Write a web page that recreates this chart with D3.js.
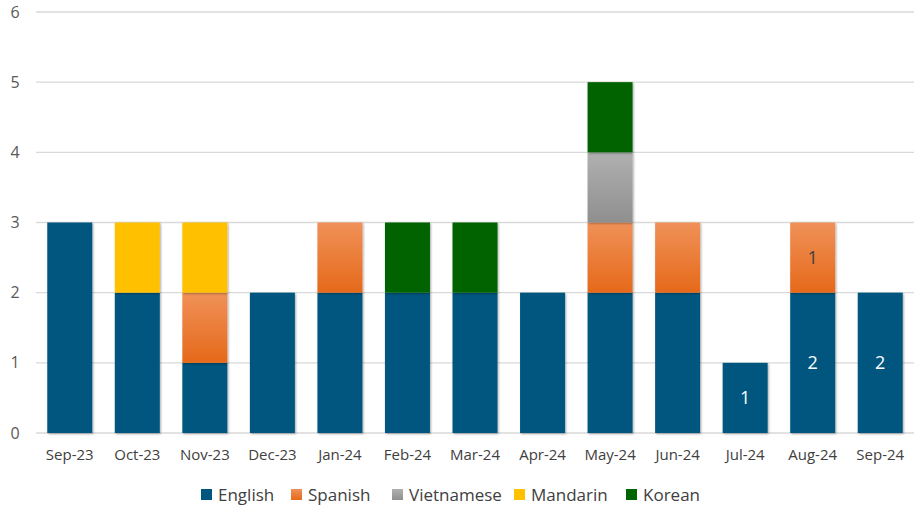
<!DOCTYPE html>
<html>
<head>
<meta charset="utf-8">
<script src="https://cdn.jsdelivr.net/npm/d3@7"></script>
<style>
  body { margin: 0; background: #fff; }
  text { font-family: "Open Sans", "Noto Sans", sans-serif; }
</style>
</head>
<body>
<div id="chart"></div>
<script>
// data
const months = ["Sep-23","Oct-23","Nov-23","Dec-23","Jan-24","Feb-24","Mar-24","Apr-24","May-24","Jun-24","Jul-24","Aug-24","Sep-24"];
const languages = ["English","Spanish","Vietnamese","Mandarin","Korean"];
const english    = [3,2,1,2,2,2,2,2,2,2,1,2,2];
const spanish    = [0,0,1,0,1,0,0,0,1,1,0,1,0];
const vietnamese = [0,0,0,0,0,0,0,0,1,0,0,0,0];
const mandarin   = [0,1,1,0,0,0,0,0,0,0,0,0,0];
const korean     = [0,0,0,0,0,1,1,0,1,0,0,0,0];
const yTicks = [0,1,2,3,4,5,6];
// which segments get a value label
const labelled = [["Jul-24","English"],["Aug-24","English"],["Aug-24","Spanish"],["Sep-24","English"]];

const seriesVals = { English: english, Spanish: spanish, Vietnamese: vietnamese, Mandarin: mandarin, Korean: korean };
const table = months.map((m, i) => {
    const row = { month: m };
    languages.forEach(l => row[l] = seriesVals[l][i]);
    return row;
});

const W = 914, H = 509;
const margin = { top: 12, right: 0, bottom: 76, left: 36 };
const width = W - margin.left - margin.right;
const height = H - margin.top - margin.bottom;

const svg = d3.select("#chart").append("svg")
    .attr("width", W)
    .attr("height", H);

const defs = svg.append("defs");
function grad(id, top, bottom) {
    const g = defs.append("linearGradient").attr("id", id)
        .attr("x1", 0).attr("y1", 0).attr("x2", 0).attr("y2", 1);
    g.append("stop").attr("offset", "0%").attr("stop-color", top);
    g.append("stop").attr("offset", "100%").attr("stop-color", bottom);
}
grad("g-spanish", "#F09158", "#E5691A");
grad("g-viet", "#B0B0B0", "#8F8F8F");

const shadow = defs.append("filter").attr("id", "shadow")
    .attr("x", "-20%").attr("y", "-20%").attr("width", "140%").attr("height", "140%");
shadow.append("feDropShadow")
    .attr("dx", 1).attr("dy", 1).attr("stdDeviation", 1.2)
    .attr("flood-color", "#000").attr("flood-opacity", 0.35);

const color = d3.scaleOrdinal()
    .domain(languages)
    .range(["#00567F", "url(#g-spanish)", "url(#g-viet)", "#FFC000", "#006400"]);

const g = svg.append("g")
    .attr("transform", `translate(${margin.left},${margin.top})`);

const x = d3.scaleBand()
    .domain(months)
    .range([0, width])
    .paddingInner(0.334)
    .paddingOuter(0.167);

const y = d3.scaleLinear()
    .domain([0, 6])
    .range([height, 0]);

// gridlines
g.append("g")
    .selectAll("line")
    .data(yTicks)
    .join("line")
    .attr("x1", 0)
    .attr("x2", width)
    .attr("y1", d => y(d))
    .attr("y2", d => y(d))
    .attr("stroke", "#D9D9D9")
    .attr("stroke-width", 1.3);

// y labels
const yAxis = g.append("g")
    .call(d3.axisLeft(y).tickValues(yTicks).tickFormat(d3.format("d")).tickSize(0));
yAxis.select(".domain").remove();
yAxis.selectAll("text")
    .style("font-size", "16px")
    .attr("fill", "#595959")
    .attr("text-anchor", "middle")
    .attr("x", -21);

// x labels
const xAxis = g.append("g")
    .attr("transform", `translate(0,${height})`)
    .call(d3.axisBottom(x).tickSize(0).tickPadding(16));
xAxis.select(".domain").remove();
xAxis.selectAll("text")
    .style("font-size", "15px")
    .attr("fill", "#404040");

const stacked = d3.stack().keys(languages)(table);

const layers = g.selectAll(".layer")
    .data(stacked)
    .join("g")
    .attr("class", "layer")
    .attr("fill", d => color(d.key));

layers.selectAll("rect")
    .data(d => d)
    .join("rect")
    .filter(d => d[1] - d[0] > 0)
    .attr("x", d => x(d.data.month))
    .attr("width", x.bandwidth())
    .attr("y", d => y(d[1]))
    .attr("height", d => y(d[0]) - y(d[1]))
    .attr("filter", "url(#shadow)");

// value labels
stacked.forEach(layer => {
    layer.forEach(d => {
        const isLab = labelled.some(p => p[0] === d.data.month && p[1] === layer.key);
        if (!isLab) return;
        g.append("text")
            .attr("x", x(d.data.month) + x.bandwidth() / 2)
            .attr("y", y((d[0] + d[1]) / 2))
            .attr("dy", "0.35em")
            .attr("text-anchor", "middle")
            .style("font-size", "18px")
            .attr("fill", layer.key === "English" ? "#FFFFFF" : "#404040")
            .text(d[1] - d[0]);
    });
});

// legend
const legendX = [201, 291, 392, 514, 626];
const legend = svg.append("g")
    .selectAll("g")
    .data(languages)
    .join("g")
    .attr("transform", (d, i) => `translate(${legendX[i]},${489})`);
legend.append("rect")
    .attr("width", 11)
    .attr("height", 11)
    .attr("fill", d => color(d));
legend.append("text")
    .attr("x", 17)
    .attr("y", 6)
    .attr("dy", "0.35em")
    .style("font-size", "17px")
    .attr("fill", "#404040")
    .text(d => d);
</script>
</body>
</html>
